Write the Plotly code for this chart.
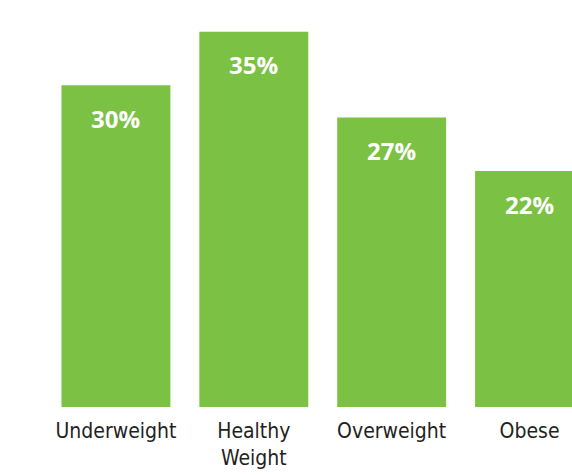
import plotly.graph_objects as go

categories = ["Underweight", "Healthy<br>Weight", "Overweight", "Obese"]
values = [30, 35, 27, 22]
labels = ["30%", "35%", "27%", "22%"]

green = "#7BC143"

fig = go.Figure()
fig.add_trace(go.Bar(x=categories, y=values, marker=dict(color=green, line=dict(width=0)),
                     hoverinfo="skip"))

for c, v, t in zip(categories, values, labels):
    fig.add_annotation(x=c, y=v, text=t, showarrow=False, yshift=-33,
                       font=dict(family="Open Sans", size=24, color="white", weight="bold"))

fig.update_layout(
    width=572, height=475,
    margin=dict(l=46.5, r=0, t=0, b=68, pad=0),
    plot_bgcolor="white", paper_bgcolor="white",
    bargap=0.21, showlegend=False,
    xaxis=dict(range=[-0.5, 3.308], showgrid=False, zeroline=False, showline=False,
               ticks="", ticklabelstandoff=9,
               tickfont=dict(family="DejaVu Sans Condensed, Liberation Sans Narrow, sans-serif", size=21, color="#231f20")),
    yaxis=dict(range=[0, 37.96], visible=False, showgrid=False, zeroline=False),
)

fig.write_html("out.html", config={"displayModeBar": False},
               post_script="document.body.style.margin='0';document.body.style.overflow='hidden';")
